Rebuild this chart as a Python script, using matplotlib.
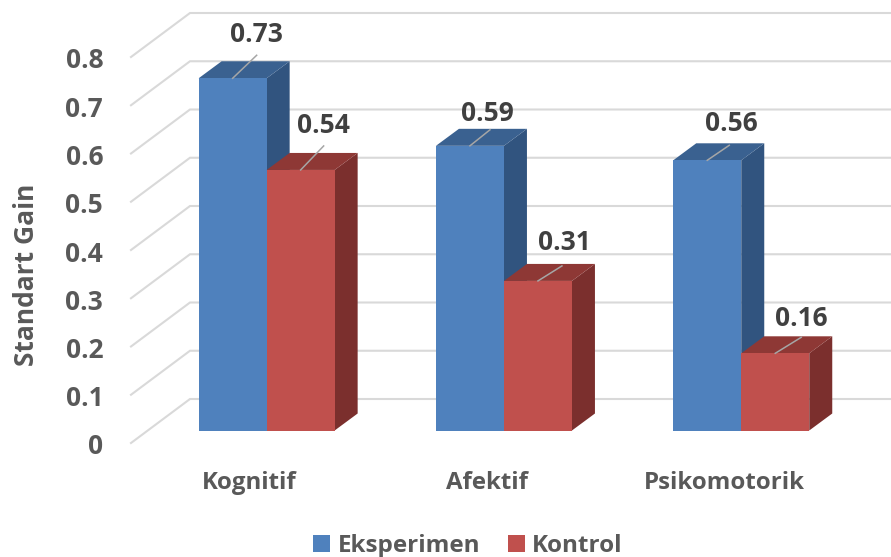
import matplotlib
matplotlib.use("Agg")
import matplotlib.pyplot as plt
from matplotlib.patches import Patch, Polygon
from matplotlib.transforms import Affine2D

categories = ["Kognitif", "Afektif", "Psikomotorik"]
eksperimen = [0.73, 0.59, 0.56]
kontrol = [0.54, 0.31, 0.16]
y_ticks = [0, 0.1, 0.2, 0.3, 0.4, 0.5, 0.6, 0.7, 0.8]
y_tick_labels = ["0", "0.1", "0.2", "0.3", "0.4", "0.5", "0.6", "0.7", "0.8"]

plt.rcParams["font.family"] = ["Open Sans", "DejaVu Sans"]
plt.rcParams["font.weight"] = "bold"

W, H = 891, 557
fig = plt.figure(figsize=(W / 100, H / 100), dpi=100)

# Axes is the front edge of the chart box; everything else is offset in depth.
CAT_PX = 237.3
VAL_PX = 482.5
left, bottom = 131, H - 443
ax = fig.add_axes([left / W, bottom / H, 3 * CAT_PX / W, 0.8 * VAL_PX / H])
ax.set_xlim(-0.5, 2.5)
ax.set_ylim(0, 0.8)
for s in ax.spines.values():
    s.set_visible(False)
ax.patch.set_visible(False)

plane = ax.transData + Affine2D().translate(17, 12.5)

# Wall gridlines: a receding segment, then a run along the back wall.
wall_dx, wall_dy = 59 / CAT_PX, 44 / VAL_PX
for v in y_ticks:
    ax.plot([-0.5, -0.5 + wall_dx, 3.0], [v, v + wall_dy, v + wall_dy],
            color="#D9D9D9", lw=1.5, clip_on=False, zorder=1, solid_joinstyle="miter")

bar_w = 68 / CAT_PX
depth_x, depth_y = 23 / CAT_PX, 17 / VAL_PX


def draw_series(values, start, front, side, top, z):
    for i, v in enumerate(values):
        x0 = i + start * bar_w
        x1 = x0 + bar_w
        ax.add_patch(Polygon([(x1, 0), (x1 + depth_x, depth_y), (x1 + depth_x, v + depth_y), (x1, v)],
                             facecolor=side, edgecolor="none", transform=plane, zorder=z, clip_on=False))
        ax.add_patch(Polygon([(x0, v), (x0 + depth_x, v + depth_y), (x1 + depth_x, v + depth_y), (x1, v)],
                             facecolor=top, edgecolor="none", transform=plane, zorder=z, clip_on=False))
    ax.bar([i + start * bar_w for i in range(len(values))], values, width=bar_w, align="edge",
           color=front, transform=plane, zorder=z + 0.5, clip_on=False)


draw_series(eksperimen, -1, "#4F81BD", "#31547F", "#3A6190", 3)
draw_series(kontrol, 0, "#C0504D", "#7B2F2D", "#8E3835", 4)

# Value labels with short leader lines, each nudged off its bar top.
series_values = [eksperimen, kontrol]
series_shift = [-0.5, 0.5]
leader_tips = [[(24, 23), (20, 16), (22, 15)], [(23, 24), (24, 15), (26, 16)]]
label_shifts = [[(24, 44), (17, 32), (24, 37)], [(23, 44), (26, 38), (26, 35)]]
for values, shift, tips, shifts in zip(series_values, series_shift, leader_tips, label_shifts):
    for i, v in enumerate(values):
        x = i + shift * bar_w
        px, py = plane.transform((x, v))
        inv = ax.transData.inverted()
        (tx, ty) = inv.transform((px + tips[i][0], py + tips[i][1]))
        (ax0, ay0) = inv.transform((px, py))
        ax.plot([ax0, tx], [ay0, ty], color="#A6A6A6", lw=1.1, zorder=6, clip_on=False)
        ax.annotate(f"{v:.2f}", xy=(x, v), xycoords=plane, xytext=shifts[i],
                    textcoords="offset pixels", ha="center", va="center",
                    fontsize=19, fontweight="bold", color="#404040", zorder=7)

ax.set_xticks(range(3), categories)
ax.set_yticks(y_ticks, y_tick_labels)
ax.tick_params(axis="y", length=0, labelcolor="#595959", labelsize=19, pad=20)
ax.tick_params(axis="x", length=0, labelcolor="#595959", labelsize=17.3, pad=20)
for tick_label in ax.get_yticklabels():
    tick_label.set_transform(tick_label.get_transform() + Affine2D().translate(0, -1))
ax.set_ylabel("Standart Gain", fontsize=19, fontweight="bold", color="#595959")
ax.yaxis.set_label_coords((40 - left) / (3 * CAT_PX), (443 - 275) / (0.8 * VAL_PX))

handles = [Patch(facecolor="#4F81BD", label="Eksperimen"), Patch(facecolor="#C0504D", label="Kontrol")]
fig.legend(handles=handles, loc="center", bbox_to_anchor=(468 / W, (H - 546) / H), ncol=2, frameon=False,
           fontsize=17.5, labelcolor="#595959", handlelength=0.7, handleheight=0.7,
           handletextpad=0.29, columnspacing=1.15, borderpad=0)

fig.savefig("out.png", dpi=100)
